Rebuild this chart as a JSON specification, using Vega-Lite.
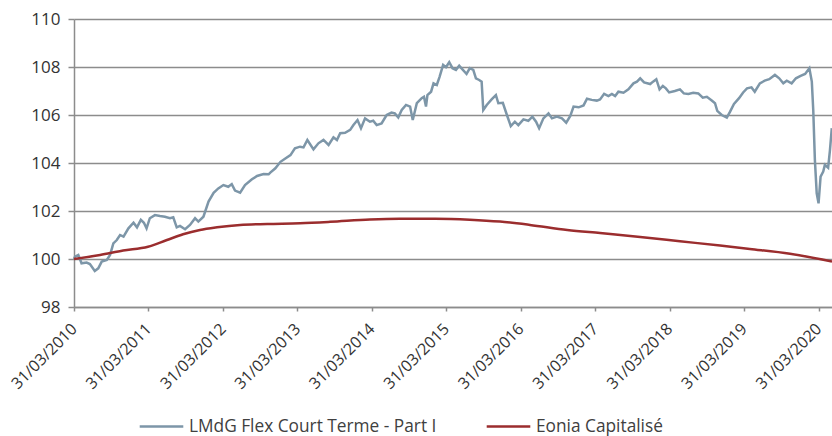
{
  "$schema": "https://vega.github.io/schema/vega-lite/v6.json",
  "width": 758,
  "height": 288,
  "autosize": {"type": "none"},
  "padding": {"left": 74, "top": 19, "right": 0, "bottom": 129},
  "config": {
    "view": {"stroke": null},
    "font": "Open Sans",
    "axis": {"labelFont": "Open Sans", "labelColor": "#333333"},
    "legend": {"labelFont": "Open Sans"}
  },
  "datasets": {
    "flex": [
      {"date":"2010-03-31","value":100.0},
      {"date":"2010-04-05","value":100.1},
      {"date":"2010-04-21","value":100.17},
      {"date":"2010-05-07","value":99.82},
      {"date":"2010-06-01","value":99.85},
      {"date":"2010-06-17","value":99.79},
      {"date":"2010-07-11","value":99.5},
      {"date":"2010-07-28","value":99.61},
      {"date":"2010-08-14","value":99.89},
      {"date":"2010-09-08","value":99.96},
      {"date":"2010-09-24","value":100.17},
      {"date":"2010-10-10","value":100.65},
      {"date":"2010-10-27","value":100.79},
      {"date":"2010-11-12","value":101.0},
      {"date":"2010-11-29","value":100.93},
      {"date":"2010-12-23","value":101.28},
      {"date":"2011-01-17","value":101.51},
      {"date":"2011-02-03","value":101.32},
      {"date":"2011-02-22","value":101.63},
      {"date":"2011-03-09","value":101.51},
      {"date":"2011-03-22","value":101.28},
      {"date":"2011-04-07","value":101.7},
      {"date":"2011-05-02","value":101.83},
      {"date":"2011-05-27","value":101.79},
      {"date":"2011-06-20","value":101.76},
      {"date":"2011-07-15","value":101.7},
      {"date":"2011-07-31","value":101.74},
      {"date":"2011-08-17","value":101.32},
      {"date":"2011-09-02","value":101.38},
      {"date":"2011-09-27","value":101.24},
      {"date":"2011-10-21","value":101.42},
      {"date":"2011-11-15","value":101.7},
      {"date":"2011-12-01","value":101.56},
      {"date":"2011-12-26","value":101.76},
      {"date":"2012-01-20","value":102.39},
      {"date":"2012-02-14","value":102.76},
      {"date":"2012-03-08","value":102.94},
      {"date":"2012-04-02","value":103.08},
      {"date":"2012-04-26","value":103.01},
      {"date":"2012-05-13","value":103.12},
      {"date":"2012-05-29","value":102.85},
      {"date":"2012-06-23","value":102.76},
      {"date":"2012-07-17","value":103.08},
      {"date":"2012-08-20","value":103.32},
      {"date":"2012-09-14","value":103.46},
      {"date":"2012-10-16","value":103.54},
      {"date":"2012-11-10","value":103.53},
      {"date":"2012-11-18","value":103.6},
      {"date":"2012-12-13","value":103.78},
      {"date":"2013-01-07","value":104.05},
      {"date":"2013-01-31","value":104.19},
      {"date":"2013-02-25","value":104.33},
      {"date":"2013-03-19","value":104.61},
      {"date":"2013-04-13","value":104.68},
      {"date":"2013-04-30","value":104.65},
      {"date":"2013-05-19","value":104.96},
      {"date":"2013-06-18","value":104.57},
      {"date":"2013-07-12","value":104.82},
      {"date":"2013-08-06","value":104.96},
      {"date":"2013-08-31","value":104.75},
      {"date":"2013-09-24","value":105.07},
      {"date":"2013-10-11","value":104.96},
      {"date":"2013-10-27","value":105.24},
      {"date":"2013-11-20","value":105.26},
      {"date":"2013-12-15","value":105.38},
      {"date":"2013-12-31","value":105.58},
      {"date":"2014-01-20","value":105.79},
      {"date":"2014-02-06","value":105.45},
      {"date":"2014-02-26","value":105.86},
      {"date":"2014-03-22","value":105.72},
      {"date":"2014-04-07","value":105.76},
      {"date":"2014-04-24","value":105.58},
      {"date":"2014-05-18","value":105.65},
      {"date":"2014-06-12","value":106.0},
      {"date":"2014-07-06","value":106.1},
      {"date":"2014-07-22","value":106.07},
      {"date":"2014-08-08","value":105.9},
      {"date":"2014-08-25","value":106.21},
      {"date":"2014-09-15","value":106.42},
      {"date":"2014-10-05","value":106.35},
      {"date":"2014-10-18","value":105.79},
      {"date":"2014-11-07","value":106.49},
      {"date":"2014-12-01","value":106.7},
      {"date":"2014-12-12","value":106.76},
      {"date":"2014-12-22","value":106.35},
      {"date":"2014-12-29","value":106.83},
      {"date":"2015-01-16","value":106.97},
      {"date":"2015-01-28","value":107.32},
      {"date":"2015-02-13","value":107.25},
      {"date":"2015-02-27","value":107.6},
      {"date":"2015-03-16","value":108.09},
      {"date":"2015-03-30","value":107.99},
      {"date":"2015-04-15","value":108.2},
      {"date":"2015-05-01","value":107.95},
      {"date":"2015-05-18","value":107.88},
      {"date":"2015-06-03","value":108.05},
      {"date":"2015-06-19","value":107.9},
      {"date":"2015-07-09","value":107.71},
      {"date":"2015-07-25","value":107.95},
      {"date":"2015-08-11","value":107.88},
      {"date":"2015-08-24","value":107.53},
      {"date":"2015-09-09","value":107.46},
      {"date":"2015-09-21","value":107.39},
      {"date":"2015-09-29","value":106.21},
      {"date":"2015-10-16","value":106.42},
      {"date":"2015-11-09","value":106.65},
      {"date":"2015-11-30","value":106.83},
      {"date":"2015-12-12","value":106.49},
      {"date":"2016-01-03","value":106.51},
      {"date":"2016-01-23","value":106.0},
      {"date":"2016-02-11","value":105.54},
      {"date":"2016-03-02","value":105.72},
      {"date":"2016-03-19","value":105.58},
      {"date":"2016-04-13","value":105.82},
      {"date":"2016-05-07","value":105.76},
      {"date":"2016-05-27","value":105.93},
      {"date":"2016-06-14","value":105.72},
      {"date":"2016-06-29","value":105.45},
      {"date":"2016-07-20","value":105.86},
      {"date":"2016-08-14","value":106.07},
      {"date":"2016-08-31","value":105.86},
      {"date":"2016-09-24","value":105.93},
      {"date":"2016-10-19","value":105.86},
      {"date":"2016-11-09","value":105.68},
      {"date":"2016-11-29","value":105.96},
      {"date":"2016-12-15","value":106.35},
      {"date":"2017-01-09","value":106.32},
      {"date":"2017-02-02","value":106.4},
      {"date":"2017-02-19","value":106.68},
      {"date":"2017-03-14","value":106.63},
      {"date":"2017-04-08","value":106.6},
      {"date":"2017-04-24","value":106.65},
      {"date":"2017-05-14","value":106.88},
      {"date":"2017-06-04","value":106.79},
      {"date":"2017-06-21","value":106.88},
      {"date":"2017-07-07","value":106.79},
      {"date":"2017-07-23","value":106.97},
      {"date":"2017-08-17","value":106.93},
      {"date":"2017-09-10","value":107.07},
      {"date":"2017-10-05","value":107.32},
      {"date":"2017-10-22","value":107.39},
      {"date":"2017-11-07","value":107.53},
      {"date":"2017-11-26","value":107.36},
      {"date":"2017-12-26","value":107.29},
      {"date":"2018-01-09","value":107.39},
      {"date":"2018-01-25","value":107.49},
      {"date":"2018-02-10","value":107.07},
      {"date":"2018-02-26","value":107.21},
      {"date":"2018-03-13","value":107.11},
      {"date":"2018-03-29","value":106.94},
      {"date":"2018-04-26","value":107.0},
      {"date":"2018-05-21","value":107.07},
      {"date":"2018-06-09","value":106.9},
      {"date":"2018-07-01","value":106.88},
      {"date":"2018-07-25","value":106.93},
      {"date":"2018-08-19","value":106.9},
      {"date":"2018-09-10","value":106.72},
      {"date":"2018-09-30","value":106.76},
      {"date":"2018-10-24","value":106.6},
      {"date":"2018-11-09","value":106.49},
      {"date":"2018-11-20","value":106.17},
      {"date":"2018-12-12","value":106.0},
      {"date":"2019-01-06","value":105.89},
      {"date":"2019-01-22","value":106.14},
      {"date":"2019-02-10","value":106.46},
      {"date":"2019-03-07","value":106.7},
      {"date":"2019-03-27","value":106.94},
      {"date":"2019-04-15","value":107.11},
      {"date":"2019-05-07","value":107.15},
      {"date":"2019-05-23","value":106.97},
      {"date":"2019-06-17","value":107.32},
      {"date":"2019-07-11","value":107.43},
      {"date":"2019-08-02","value":107.49},
      {"date":"2019-08-30","value":107.67},
      {"date":"2019-09-20","value":107.53},
      {"date":"2019-10-10","value":107.32},
      {"date":"2019-10-27","value":107.43},
      {"date":"2019-11-20","value":107.32},
      {"date":"2019-12-11","value":107.53},
      {"date":"2020-01-03","value":107.63},
      {"date":"2020-01-25","value":107.71},
      {"date":"2020-02-15","value":107.95},
      {"date":"2020-02-27","value":107.39},
      {"date":"2020-03-05","value":106.21},
      {"date":"2020-03-13","value":104.13},
      {"date":"2020-03-22","value":102.74},
      {"date":"2020-03-31","value":102.32},
      {"date":"2020-04-10","value":103.43},
      {"date":"2020-04-23","value":103.64},
      {"date":"2020-05-01","value":103.92},
      {"date":"2020-05-17","value":103.8},
      {"date":"2020-05-26","value":104.54},
      {"date":"2020-06-04","value":105.45}
    ],
    "eonia": [
      {"date":"2010-03-31","value":100.0},
      {"date":"2010-08-06","value":100.17},
      {"date":"2010-11-27","value":100.35},
      {"date":"2011-03-29","value":100.51},
      {"date":"2011-06-30","value":100.79},
      {"date":"2011-09-17","value":101.03},
      {"date":"2011-12-09","value":101.21},
      {"date":"2012-03-02","value":101.32},
      {"date":"2012-06-23","value":101.42},
      {"date":"2012-11-03","value":101.46},
      {"date":"2013-04-13","value":101.49},
      {"date":"2013-09-08","value":101.55},
      {"date":"2014-03-22","value":101.65},
      {"date":"2014-08-16","value":101.68},
      {"date":"2015-02-05","value":101.68},
      {"date":"2015-07-25","value":101.64},
      {"date":"2015-12-20","value":101.56},
      {"date":"2016-05-15","value":101.42},
      {"date":"2016-11-14","value":101.21},
      {"date":"2017-04-24","value":101.08},
      {"date":"2017-11-07","value":100.92},
      {"date":"2018-05-21","value":100.74},
      {"date":"2018-12-04","value":100.56},
      {"date":"2019-04-29","value":100.42},
      {"date":"2019-11-12","value":100.22},
      {"date":"2020-06-05","value":99.9}
    ]
  },
  "encoding": {
    "x": {
      "field": "date",
      "type": "temporal",
      "scale": {
        "type": "utc",
        "domain": [
          {"year": 2010, "month": 3, "date": 31, "utc": true},
          {"year": 2020, "month": 6, "date": 5, "utc": true}
        ]
      },
      "axis": {
        "title": null,
        "grid": false,
        "values": [
          {"year": 2010, "month": 3, "date": 31, "utc": true},
          {"year": 2011, "month": 3, "date": 31, "utc": true},
          {"year": 2012, "month": 3, "date": 31, "utc": true},
          {"year": 2013, "month": 3, "date": 31, "utc": true},
          {"year": 2014, "month": 3, "date": 31, "utc": true},
          {"year": 2015, "month": 3, "date": 31, "utc": true},
          {"year": 2016, "month": 3, "date": 31, "utc": true},
          {"year": 2017, "month": 3, "date": 31, "utc": true},
          {"year": 2018, "month": 3, "date": 31, "utc": true},
          {"year": 2019, "month": 3, "date": 31, "utc": true},
          {"year": 2020, "month": 3, "date": 31, "utc": true}
        ],
        "labelExpr": "utcFormat(datum.value, '%d/%m/%Y')",
        "labelAngle": -45,
        "labelAlign": "right",
        "labelBaseline": "middle",
        "labelFontSize": 16,
        "labelPadding": 15,
        "labelDx": 3,
        "labelOverlap": false,
        "labelBound": false,
        "labelFlush": false,
        "domainColor": "#8c8c8c",
        "domainWidth": 1.5,
        "tickColor": "#8c8c8c",
        "tickSize": 4,
        "tickWidth": 1.5
      }
    },
    "y": {
      "field": "value",
      "type": "quantitative",
      "scale": {"domain": [98, 110], "nice": false, "zero": false},
      "axis": {
        "title": null,
        "values": [98, 100, 102, 104, 106, 108, 110],
        "grid": true,
        "gridColor": "#8c8c8c",
        "gridWidth": 1.5,
        "domainColor": "#8c8c8c",
        "domainWidth": 1.5,
        "tickColor": "#8c8c8c",
        "tickSize": 6,
        "tickWidth": 1.5,
        "labelFontSize": 17,
        "labelPadding": 8
      }
    }
  },
  "layer": [
    {
      "data": {"name": "flex"},
      "mark": {"type": "line", "strokeWidth": 2.5, "interpolate": "linear"},
      "encoding": {
        "color": {
          "datum": "LMdG Flex Court Terme - Part I",
          "type": "nominal",
          "scale": {
            "domain": ["LMdG Flex Court Terme - Part I", "Eonia Capitalisé"],
            "range": ["#7d96a8", "#9b2d2e"]
          },
          "legend": {
            "title": null,
            "orient": "none",
            "legendX": 64,
            "legendY": 384,
            "direction": "horizontal",
            "columns": 2,
            "columnPadding": 44,
            "symbolType": "stroke",
            "symbolSize": 1900,
            "symbolStrokeWidth": 2.5,
            "labelFontSize": 17.3,
            "labelLimit": 500,
            "labelColor": "#404040",
            "labelOffset": 4
          }
        }
      }
    },
    {
      "data": {"name": "eonia"},
      "mark": {"type": "line", "strokeWidth": 2.5, "interpolate": "monotone"},
      "encoding": {
        "color": {"datum": "Eonia Capitalisé", "type": "nominal"}
      }
    }
  ]
}
